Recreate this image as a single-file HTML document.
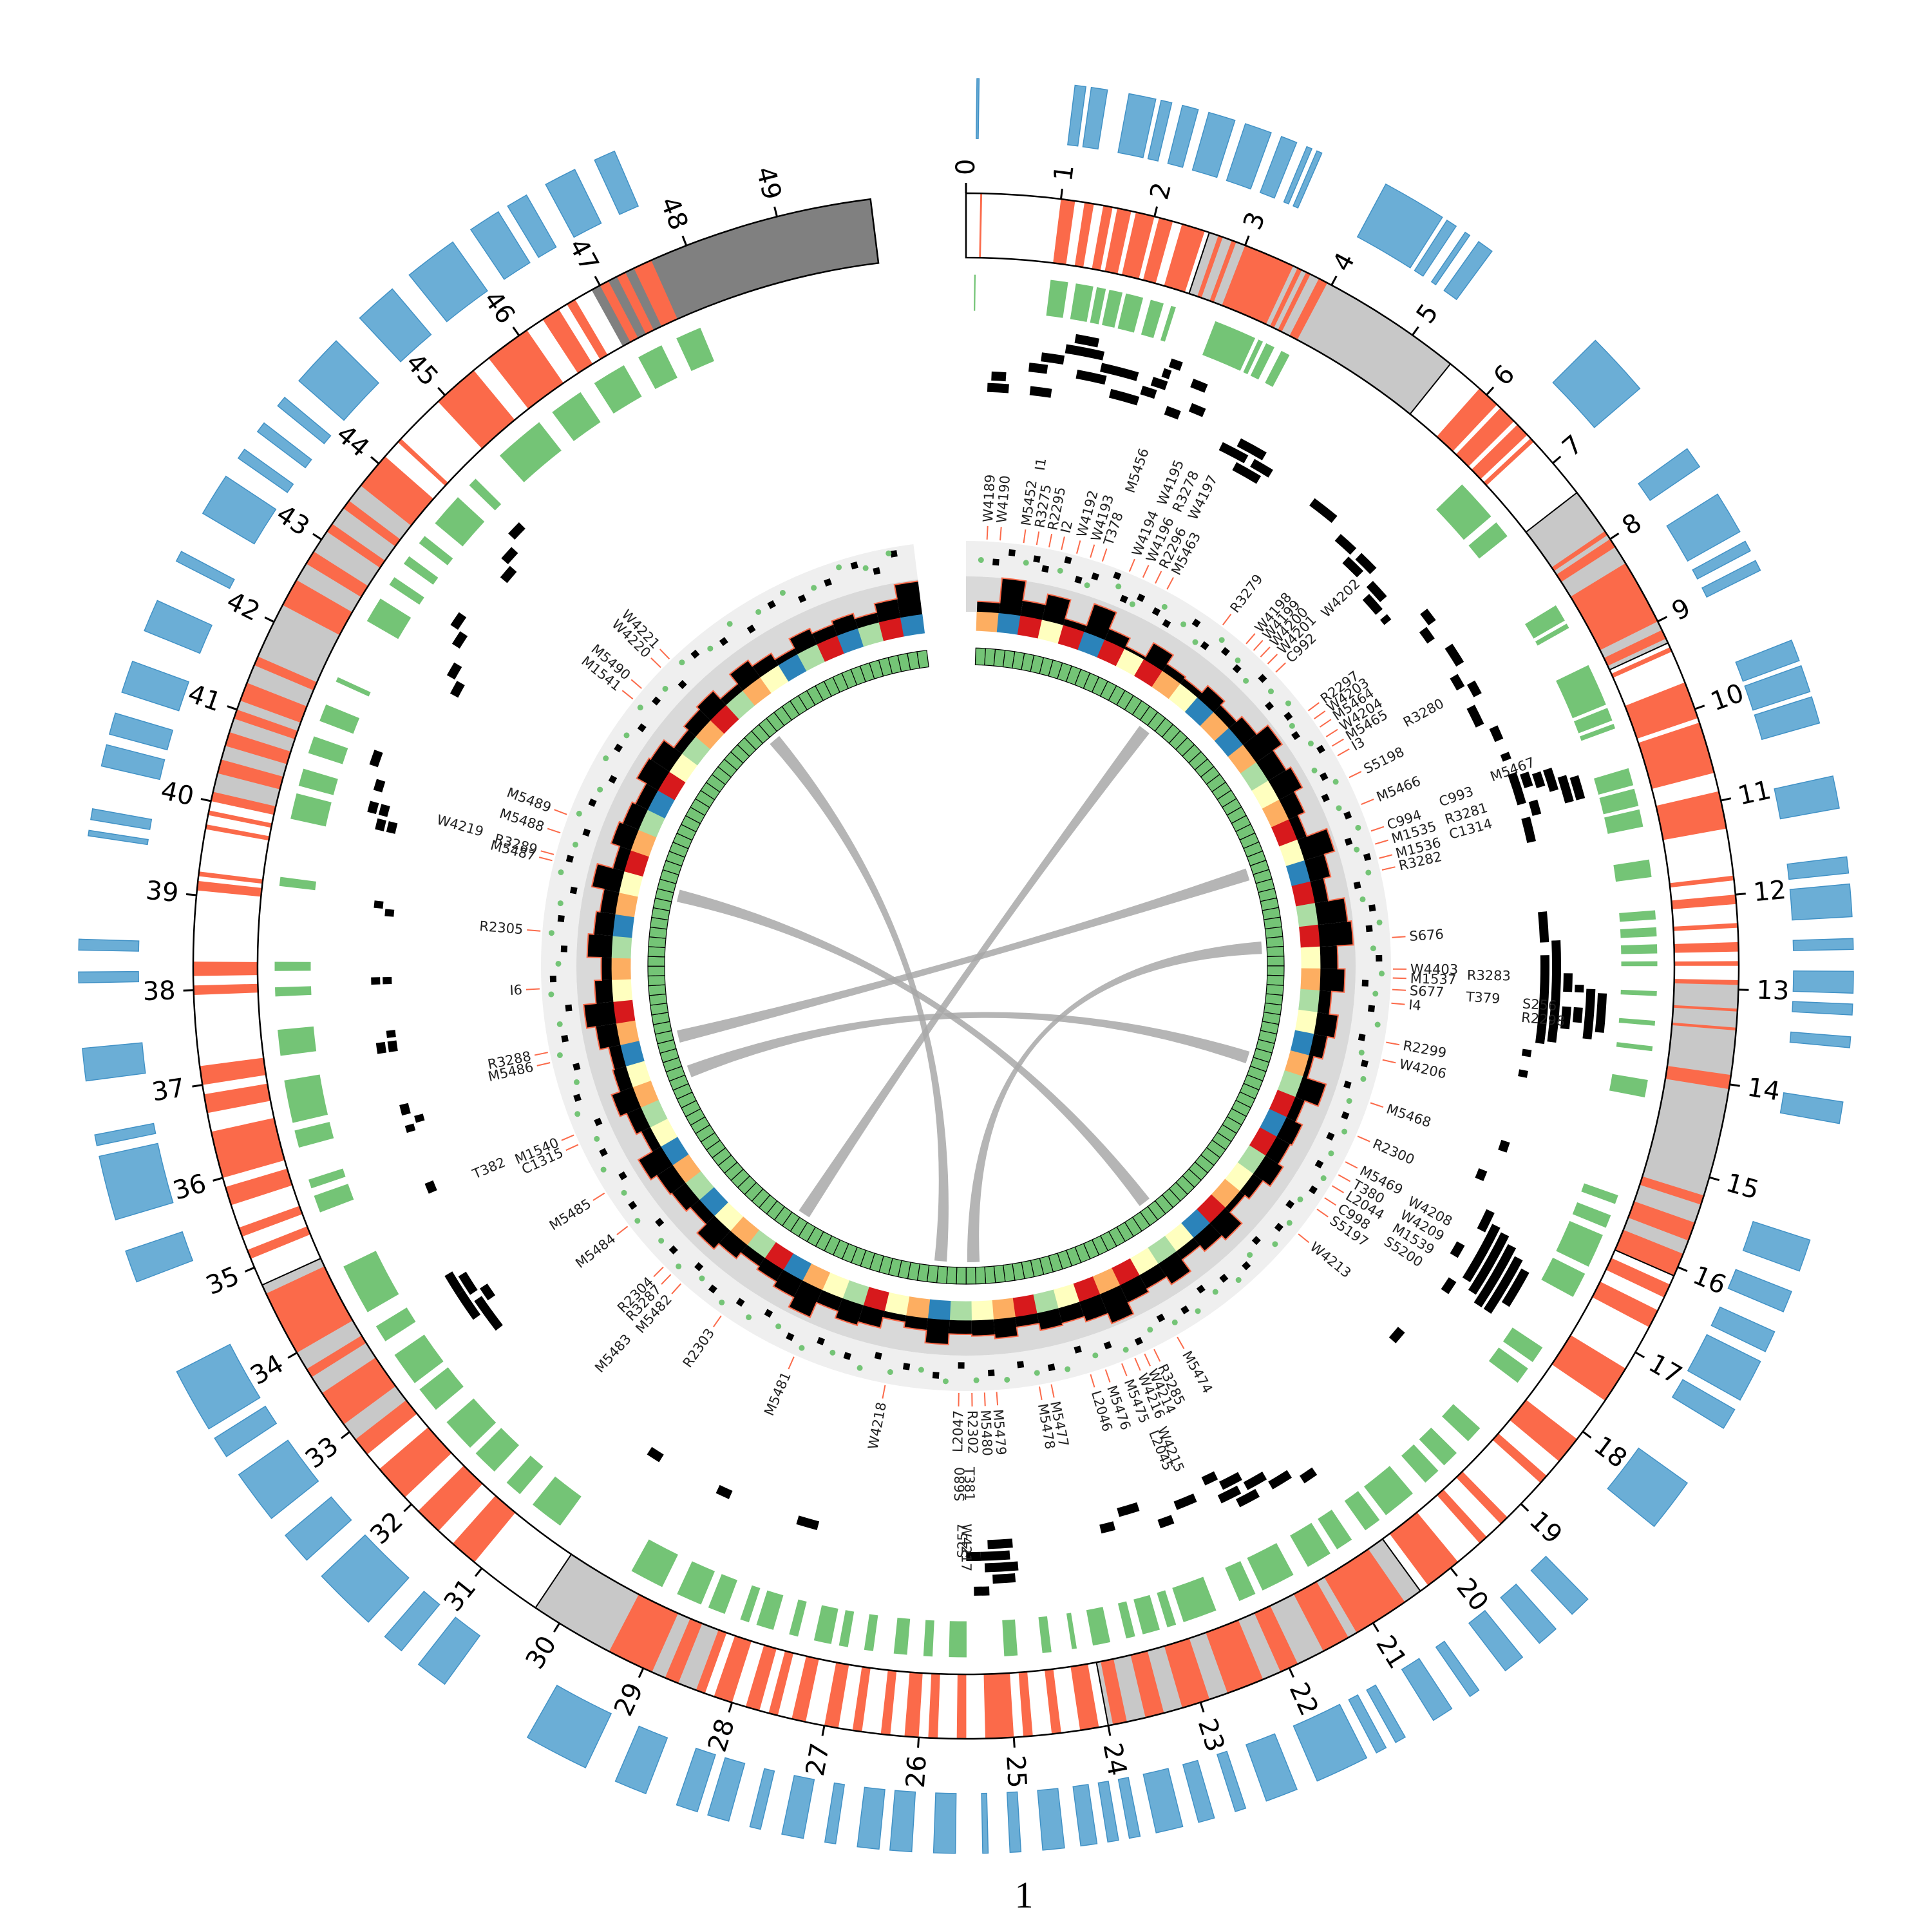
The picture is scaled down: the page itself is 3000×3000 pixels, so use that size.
<!DOCTYPE html>
<html><head><meta charset="utf-8"><title>circos</title>
<style>html,body{margin:0;padding:0;background:#fff;}svg{display:block;}</style></head>
<body>
<svg id="chart" xmlns="http://www.w3.org/2000/svg" width="3000" height="3000" viewBox="0 0 3000 3000">
<rect width="3000" height="3000" fill="#fff"/>
<text x="1590" y="2962" font-family="Liberation Serif, serif" font-size="58" text-anchor="middle">1</text>
</svg>
<script>
// ---------- data ----------
const TOTAL = 50;
const tickLabels = [0,1,2,3,4,5,6,7,8,9,10,11,12,13,14,15,16,17,18,19,20,21,22,23,24,25,26,27,28,29,30,31,32,33,34,35,36,37,38,39,40,41,42,43,44,45,46,47,48,49];
const greyBands = [[2.6,5.5],[7.4,9.25],[12.9,16.1],[20.4,24.0],[28.4,30.3],[32.7,34.8],[40.0,43.8]];
const darkBands = [[46.9,50]];
const segBounds = [2.6,5.5,7.4,9.25,16.1,20.4,24.0,30.3,34.8];
const redBands = [[0.15,0.17],[1.0,1.15],[1.25,1.35],[1.45,1.55],[1.6,1.75],[1.8,2.0],[2.05,2.2],[2.3,2.55],[2.7,2.75],[2.85,2.9],[3.0,3.55],[3.6,3.65],[3.7,3.75],[3.85,3.95],
[5.9,6.15],[6.2,6.4],[6.45,6.6],[6.65,6.7],[7.9,7.95],[8.0,8.1],[8.3,9.0],[9.1,9.2],[9.3,9.35],[9.7,10.1],[10.15,10.7],[10.9,11.3],[11.8,11.85],[12.0,12.1],[12.3,12.35],[12.5,12.6],[12.7,12.75],[12.9,12.95],
[13.2,13.23],[13.4,13.43],[13.9,14.05],[15.2,15.3],[15.5,15.7],[15.85,16.1],[16.2,16.35],[16.5,16.7],[17.2,17.6],[18.1,18.4],[18.6,18.7],[19.2,19.3],[19.5,19.6],[19.9,20.3],
[20.6,21.2],[21.3,21.6],[21.9,22.1],[22.3,22.7],[22.9,23.2],[23.4,23.6],[23.8,23.95],[24.1,24.3],[24.5,24.6],[24.8,24.9],[25.0,25.3],[25.5,25.6],[25.8,25.9],[26.0,26.15],[26.3,26.4],[26.6,26.7],[26.85,27.0],[27.2,27.35],[27.5,27.6],[27.7,27.85],[28.0,28.2],[28.3,28.4],[28.6,28.75],[28.9,29.4],
[31.1,31.4],[31.6,31.9],[32.1,32.5],[32.7,32.9],[33.1,33.5],[33.7,33.8],[34.0,34.7],[35.1,35.2],[35.35,35.45],[35.7,35.9],[36.0,36.5],[36.7,36.9],[37.0,37.2],[37.95,38.05],[38.15,38.3],[39.05,39.15],[39.2,39.25],
[39.7,39.75],[39.85,39.9],[40.0,40.1],[40.3,40.45],[40.6,40.75],[40.9,41.0],[41.1,41.3],[41.5,41.6],[42.2,42.5],[42.7,42.85],[43.1,43.2],[43.4,43.5],[43.7,44.1],[44.3,44.35],[44.9,45.4],[45.6,46.1],[46.3,46.5],[46.6,46.7],[47.0,47.1],[47.2,47.3],[47.4,47.6]];
const blueBars = [[0.1,0.12],[1.0,1.1],[1.15,1.3],[1.5,1.75],[1.8,1.9],[2.0,2.15],[2.25,2.5],[2.6,2.85],[2.95,3.1],[3.2,3.25],[3.3,3.35],[4.0,4.6],[4.65,4.75],[4.85,4.9],[5.0,5.15],[6.4,7.0],[7.7,7.9],[8.2,8.6],[8.7,8.8],[8.9,9.0],
[9.7,9.9],[9.95,10.2],[10.25,10.5],[11.0,11.3],[11.75,11.9],[12.0,12.3],[12.5,12.6],[12.8,13.0],[13.1,13.2],[13.4,13.5],[14.0,14.2],[15.3,15.6],[15.8,16.0],[16.2,16.4],[16.5,16.9],[17.0,17.2],[17.8,18.3],
[19.2,19.4],[19.6,19.8],[20.0,20.2],[20.5,20.6],[20.8,21.0],[21.3,21.4],[21.5,21.6],[21.7,22.2],[22.4,22.7],[22.9,23.0],[23.2,23.35],[23.5,23.75],[23.9,24.0],[24.1,24.2],[24.3,24.45],[24.6,24.8],[25.0,25.1],
[25.3,25.35],[25.6,25.8],[26.0,26.2],[26.3,26.5],[26.7,26.8],[27.0,27.2],[27.4,27.5],[27.7,27.9],[28.0,28.2],[28.5,28.8],[29.1,29.7],[30.6,30.9],[31.1,31.3],[31.5,32.1],[32.3,32.6],[32.8,33.3],[33.5,33.7],[33.8,34.4],
[35.3,35.6],[35.9,36.5],[36.6,36.7],[37.2,37.5],[38.1,38.2],[38.4,38.5],[39.45,39.5],[39.6,39.7],[40.1,40.3],[40.4,40.6],[40.8,41.1],[41.4,41.7],[42.1,42.2],[42.6,43.0],[43.2,43.3],[43.5,43.6],[43.8,43.9],[44.1,44.6],[44.9,45.3],[45.5,46.0],[46.2,46.5],[46.6,46.8],[47.0,47.3],[47.5,47.7]];
const greenBars = [[0.1,0.11],[1.0,1.2],[1.3,1.5],[1.55,1.65],[1.7,1.85],[1.9,2.1],[2.2,2.35],[2.45,2.5],[3.0,3.5],[3.55,3.6],[3.65,3.75],[3.85,3.95],[6.5,7.0],[7.1,7.3],[8.3,8.5],[8.55,8.6],[9.1,9.6],[9.65,9.8],[9.85,9.9],
[10.4,10.6],[10.65,10.85],[10.9,11.1],[11.5,11.7],[12.1,12.2],[12.3,12.4],[12.5,12.6],[12.7,12.75],[13.05,13.1],[13.4,13.45],[13.7,13.75],[14.1,14.3],[15.5,15.6],[15.75,15.9],[16.0,16.4],[16.5,16.8],[17.5,17.7],[17.8,18.0],
[18.7,18.9],[19.1,19.3],[19.4,19.6],[19.8,20.2],[20.3,20.5],[20.7,20.9],[21.0,21.3],[21.5,21.9],[22.0,22.2],[22.5,22.9],[23.0,23.1],[23.2,23.4],[23.5,23.6],[23.8,24.0],[24.2,24.25],[24.5,24.6],[24.9,25.05],
[25.5,25.7],[25.9,26.0],[26.2,26.35],[26.6,26.7],[26.9,27.0],[27.1,27.3],[27.5,27.6],[27.8,28.0],[28.1,28.2],[28.4,28.6],[28.7,29.0],[29.2,29.6],[30.6,31.0],[31.2,31.4],[31.6,31.9],[32.0,32.4],[32.6,32.9],[33.0,33.4],[33.6,33.8],[34.0,34.6],
[35.3,35.5],[35.6,35.7],[36.1,36.3],[36.4,36.9],[37.2,37.5],[37.9,38.0],[38.2,38.3],[39.2,39.3],[40.0,40.3],[40.4,40.6],[40.8,41.0],[41.2,41.4],[41.7,41.75],[42.5,42.8],[43.0,43.1],[43.3,43.4],[43.6,43.7],[43.9,44.3],[44.5,44.6],
[45.0,45.6],[45.8,46.2],[46.4,46.8],[47.0,47.3],[47.5,47.8]];
const tiles = [[0.3,0.6,0],[0.35,0.55,1],[0.9,1.2,0],[0.85,1.1,2],[1.0,1.3,3],[1.3,1.8,4],[1.4,1.7,5],[1.5,1.9,2],[1.8,2.3,3],[2.0,2.4,1],[2.4,2.6,2],[2.5,2.7,3],[2.6,2.7,4],[2.65,2.8,5],[2.8,3.0,1],[3.1,3.3,2],[3.0,3.2,4],
[3.7,4.1,0],[3.9,4.3,1],[4.0,4.4,-1],[4.2,4.5,0],[5.2,5.6,0],[5.8,6.1,-1],[6.1,6.4,-2],[6.2,6.5,-1],[6.6,6.9,-2],[6.7,7.0,-3],[7.1,7.2,-3],
[7.4,7.6,0],[7.6,7.8,-1],[8.0,8.3,0],[8.4,8.6,-1],[8.6,8.8,0],[8.9,9.2,-1],[9.3,9.5,0],[9.7,9.8,0],
[10.0,10.45,0],[10.05,10.25,1],[10.1,10.3,2],[10.1,10.4,3],[10.25,10.6,4],[10.3,10.6,5],[10.45,10.65,1],[10.65,11.0,0],
[11.99,12.42,0],[12.6,13.84,0],[12.4,13.8,1],[12.85,13.1,2],[13.3,13.6,2],[13.0,13.1,3],[13.3,13.5,3],[13.05,13.7,4],[13.1,13.6,5],
[13.95,14.05,-1],[14.25,14.35,-1],[15.3,15.45,-1],[15.8,15.95,-2],
[16.3,16.6,0],[16.45,17.3,1],[16.5,17.4,2],[16.6,17.5,3],[16.7,17.5,4],[16.8,17.3,5],[17.4,17.6,0],[16.9,17.1,-1],
[18.4,18.6,-1],[20.6,20.8,3],[20.9,21.2,2],[21.2,21.5,1],[21.4,21.7,2],[21.5,21.8,0],[21.6,21.9,1],[21.8,22.0,-1],[22.2,22.5,0],[22.6,22.8,1],[23.0,23.3,-1],[23.4,23.6,0],
[24.85,25.2,0],[24.9,25.3,1],[24.8,25.25,2],[24.85,25.15,3],[25.2,25.4,4],[25.3,25.5,1],
[27.6,27.9,0],[28.9,29.1,0],[30.0,30.2,0],[32.9,33.4,1],[33.2,33.6,2],[33.3,33.5,0],[33.5,33.8,1],[33.6,33.9,2],[35.0,35.15,0],[35.9,36.0,0],[36.0,36.1,-1],[36.15,36.3,0],
[37.05,37.2,0],[37.05,37.2,1],[37.25,37.35,0],[38.0,38.1,0],[38.0,38.1,1],[38.95,39.05,0],[39.05,39.15,1],
[40.1,40.25,1],[40.1,40.25,2],[40.3,40.45,2],[40.3,40.45,3],[40.6,40.75,3],[40.9,41.1,4],[42.2,42.4,0],[42.4,42.6,1],[42.8,43.0,2],[43.0,43.2,3],[43.9,44.1,2],[44.1,44.3,3],[44.4,44.6,4]];
const histValues = [0.3,1.0,0.45,0.75,0.2,0.85,0.35,0.1,0.55,0.25,0.2,0.45,0.3,0.5,0.9,0.6,0.75,0.5,0.3,0.9,0.6,0.4,0.85,0.95,0.5,0.7,0.35,0.6,0.4,0.15,0.7,0.3,0.5,0.45,0.6,0.35,0.2,0.65,0.5,0.3,0.7,0.45,0.55,0.9,0.6,0.45,0.5,0.3,0.55,0.45,0.4,0.7,0.35,0.2,0.5,0.6,0.4,0.85,0.55,0.4,0.3,0.5,0.7,0.35,0.5,0.55,0.75,0.3,0.45,0.65,0.4,0.35,0.6,0.85,0.5,0.3,0.7,0.55,0.45,0.8,0.35,0.6,0.5,0.4,0.7,0.65,0.3,0.45,0.55,0.25,0.6,0.4,0.2,0.5,0.35,0.45,0.3,0.55,0.95];
const heatValues = [1,4,0,2,0,4,0,2,0,1,2,4,1,4,1,3,2,1,0,2,4,0,3,0,2,1,3,2,4,1,3,0,4,0,3,2,1,0,4,2,3,2,0,1,0,2,3,0,1,2,3,4,1,2,0,3,2,1,4,0,3,1,2,4,3,1,4,2,3,1,2,4,1,0,2,1,3,4,1,2,0,1,3,4,0,2,3,1,0,3,1,2,4,3,0,4,3,0,4];
const heatColors = ["#d7191c","#fdae61","#ffffbf","#abdda4","#2b83ba"];
const squarePts = [[0.6,0.4],[0.9,0.8],[1.4,0.7],[1.6,0.4],[2.0,0.9],[2.3,0.3],[2.6,0.6],[3.0,0.9],[3.3,0.2],[3.6,0.5],[4.0,0.3],[4.3,0.1],[4.8,0.7],[5.2,0.2],[5.6,0.5],[6.0,0.3],[6.5,0.7],[7.0,0.2],[7.4,0.5],[7.8,0.3],[8.3,0.8],[8.8,0.4],[9.2,0.1],[9.7,0.6],[10.2,0.3],[10.6,0.8],[11.1,0.2],[11.6,0.6],[12.0,0.4],[12.6,0.7],[13.1,0.2],[13.6,0.5],[14.2,0.3],[14.7,0.6],[15.2,0.2],[15.8,0.5],[16.3,0.3],[16.9,0.4],[17.4,0.7],[17.9,0.3],[18.4,0.5],[18.9,0.2],[19.4,0.6],[19.9,0.4],[20.4,0.2],[20.9,0.5],[21.4,0.3],[22.0,0.7],[22.6,0.4],[23.2,0.2],[23.8,0.6],[24.4,0.3],[25.0,0.5],[25.6,0.2],[26.1,0.6],[26.7,0.4],[27.3,0.2],[27.9,0.5],[28.5,0.3],[29.1,0.6],[29.7,0.2],[30.3,0.4],[30.9,0.6],[31.4,0.3],[32.0,0.5],[32.6,0.2],[33.2,0.6],[33.8,0.3],[34.4,0.5],[35.0,0.2],[35.6,0.6],[36.2,0.3],[36.8,0.5],[37.4,0.2],[38.0,0.7],[38.6,0.3],[39.2,0.5],[39.8,0.2],[40.4,0.6],[41.0,0.3],[41.6,0.5],[42.2,0.2],[42.8,0.6],[43.4,0.3],[44.0,0.5],[44.6,0.2],[45.2,0.7],[45.8,0.4],[46.4,0.2],[47.0,0.6],[47.6,0.3],[48.2,0.5],[48.8,0.8],[49.2,0.4],[49.6,0.9]];
const dotPts = [[0.3,0.45],[1.2,0.5],[1.9,0.45],[2.5,0.2],[3.1,0.55],[3.5,0.15],[4.1,0.6],[4.6,0.4],[5.0,0.1],[5.4,0.75],[5.9,0.55],[6.3,0.2],[6.8,0.6],[7.2,0.8],[7.6,0.4],[8.1,0.6],[8.6,0.2],[9.0,0.7],[9.5,0.4],[10.0,0.8],[10.4,0.5],[10.9,0.7],[11.4,0.3],[11.9,0.8],[12.4,0.5],[12.9,0.8],[13.3,0.6],[13.9,0.8],[14.5,0.4],[15.0,0.7],[15.5,0.45],[16.1,0.7],[16.6,0.6],[17.1,0.8],[17.7,0.5],[18.2,0.7],[18.7,0.8],[19.2,0.4],[19.7,0.8],[20.2,0.6],[20.7,0.8],[21.2,0.7],[21.7,0.5],[22.3,0.8],[22.9,0.6],[23.5,0.8],[24.1,0.7],[24.7,0.8],[25.3,0.75],[25.9,0.8],[26.4,0.45],[27.0,0.7],[27.6,0.8],[28.2,0.55],[28.8,0.8],[29.4,0.45],[30.0,0.7],[30.6,0.8],[31.2,0.55],[31.7,0.8],[32.3,0.6],[32.9,0.8],[33.5,0.6],[34.1,0.8],[34.7,0.5],[35.3,0.8],[35.9,0.45],[36.5,0.8],[37.1,0.6],[37.7,0.8],[38.3,0.5],[38.9,0.8],[39.5,0.6],[40.1,0.8],[40.7,0.55],[41.3,0.8],[41.9,0.45],[42.5,0.8],[43.1,0.6],[43.7,0.8],[44.3,0.55],[44.9,0.8],[45.5,0.5],[46.1,0.8],[46.7,0.6],[47.3,0.8],[47.9,0.5],[48.5,0.9],[49.0,0.6],[49.5,0.95]];
const labelNames = ["W4189","W4190","M5452","I1","R3275","R2295","I2","W4192","W4193","T378","M5456","W4194","W4195","W4196","R3278","R2296","W4197","M5463","R3279","W4198","W4199","W4200","W4201","C992","W4202","R2297","W4203","M5464","W4204","M5465","I3","R3280","S5198","M5466","C994","C993","M5467","M1535","R3281","M1536","C1314","R3282","S676","W4403","M1537","R3283","S677","T379","S256","I4","R2298","R2299","W4206","M5468","R2300","M5469","W4208","T380","W4209","L2044","M1539","C998","S5200","S5197","W4213","M5474","R3285","W4214","W4216","W4215","L2045","M5475","M5476","L2046","M5477","M5478","M5479","M5480","R2302","T381","W4217","L2047","S680","S257","W4218","M5481","R2303","M5482","M5483","R3287","R2304","M5484","M5485","C1315","M1540","T382","M5486","R3288","I6","R2305","M5487","R3289","W4219","M5488","M5489","M1541","M5490","W4220","W4221"];
const labelPos = [0.40,0.65,1.10,1.20,1.35,1.59,1.83,2.13,2.40,2.64,2.70,3.19,3.25,3.47,3.52,3.73,3.80,3.98,5.24,5.81,6.0,6.18,6.37,6.59,6.45,7.55,7.74,7.93,8.15,8.36,8.57,8.65,9.04,9.6,10.14,10.05,9.95,10.4,10.35,10.68,10.6,10.91,12.21,12.81,12.98,12.9,13.2,13.25,13.3,13.46,13.5,14.21,14.55,15.4,16.08,16.62,16.7,16.9,16.95,17.14,17.2,17.41,17.45,17.67,18.26,21.3,21.8,22.0,22.2,22.25,22.4,22.47,22.8,23.1,23.87,24.1,24.92,25.15,25.39,25.45,25.5,25.64,25.6,25.55,27.05,28.87,30.46,31.44,31.5,31.7,31.9,32.93,33.7,34.75,34.95,35.0,36.4,36.6,37.82,38.92,40.28,40.4,40.45,40.83,41.2,43.74,44.0,44.54,44.77];
const labelLevel = [0,0,0,1,0,0,0,0,0,0,1,0,1,0,1,0,1,0,0,0,0,0,0,0,1,0,0,0,0,0,0,1,0,0,0,1,2,0,1,0,1,0,0,0,0,1,0,1,2,0,2,0,0,0,0,0,1,0,1,0,1,0,1,0,0,0,0,0,0,1,1,0,0,0,0,0,0,0,0,1,2,0,1,2,0,0,0,0,1,0,0,0,0,0,0,1,0,0,0,0,0,0,1,0,0,0,0,0,0];
const linkFrom = [45.3,5.25,40.2,36.3,35.3,12.25];
const linkTo = [26.2,30.2,20.25,10.2,15.3,25.3];
const boxCount = 199;

// ---------- helpers ----------
const svg = document.getElementById('chart');
const NS = 'http://www.w3.org/2000/svg';
const CX = 1500, CY = 1500, SPAN = 352.9;
function ang(u){ return u / TOTAL * SPAN; }
function pt(r, deg){ const a = deg*Math.PI/180; return [CX + r*Math.sin(a), CY - r*Math.cos(a)]; }
function sector(r0, r1, u0, u1){
  const a0 = ang(u0), a1 = ang(u1), lg = (a1-a0) > 180 ? 1 : 0;
  const p1 = pt(r1,a0), p2 = pt(r1,a1), p3 = pt(r0,a1), p4 = pt(r0,a0);
  return `M${p1[0].toFixed(2)},${p1[1].toFixed(2)} A${r1},${r1} 0 ${lg} 1 ${p2[0].toFixed(2)},${p2[1].toFixed(2)} L${p3[0].toFixed(2)},${p3[1].toFixed(2)} A${r0},${r0} 0 ${lg} 0 ${p4[0].toFixed(2)},${p4[1].toFixed(2)} Z`;
}
function mk(tag, attrs, parent){
  const e = document.createElementNS(NS, tag);
  for (const k in attrs) e.setAttribute(k, attrs[k]);
  (parent || svg).appendChild(e);
  return e;
}
function group(name){
  const g = document.createElementNS(NS, 'g');
  
  
  svg.appendChild(g);
  return g;
}

// ---------- blue outer track ----------
const gBlue = group('blue-track');
blueBars.forEach(b => {
  const p = mk('path', {d: sector(1285, 1378, b[0], b[1]), fill: '#6baed6', stroke: '#4292c6', 'stroke-width': 1.5}, gBlue);
  
  
});

// ---------- ideogram ----------
const gIdeo = group('ideogram');
mk('path', {d: sector(1100, 1200, 0, TOTAL), fill: '#ffffff'}, gIdeo);
greyBands.forEach(b => {
  const p = mk('path', {d: sector(1100, 1200, b[0], b[1]), fill: '#c8c8c8'}, gIdeo);
  
  
});
darkBands.forEach(b => {
  const p = mk('path', {d: sector(1100, 1200, b[0], b[1]), fill: '#808080'}, gIdeo);
  
  
});
redBands.forEach(b => {
  const p = mk('path', {d: sector(1100, 1200, b[0], b[1]), fill: '#fb6a4a'}, gIdeo);
  
  
});
segBounds.forEach(u => {
  const a = pt(1100, ang(u)), b = pt(1200, ang(u));
  const l = mk('line', {x1:a[0], y1:a[1], x2:b[0], y2:b[1], stroke:'#000', 'stroke-width':2}, gIdeo);
  
  
});
const outline = mk('path', {d: sector(1100, 1200, 0, TOTAL), fill: 'none', stroke: '#000', 'stroke-width': 2.5}, gIdeo);


const gTicks = group('ideogram-ticks');
tickLabels.forEach(t => {
  const a = ang(t);
  const p0 = pt(1200, a), p1 = pt(1216, a);
  const l = mk('line', {x1:p0[0], y1:p0[1], x2:p1[0], y2:p1[1], stroke:'#000', 'stroke-width':3}, gTicks);
  
  
  const tp = pt(1228, a);
  const right = a < 180;
  const rot = right ? a - 90 : a + 90;
  const tx = mk('text', {x: tp[0], y: tp[1], 'font-family': 'DejaVu Sans, sans-serif', 'font-size': 40,
    'text-anchor': right ? 'start' : 'end', 'dominant-baseline': 'central',
    transform: `rotate(${rot.toFixed(2)} ${tp[0].toFixed(2)} ${tp[1].toFixed(2)})`}, gTicks);
  tx.textContent = t;
  
  
});

// ---------- green track ----------
const gGreen = group('green-track');
greenBars.forEach(b => {
  const p = mk('path', {d: sector(1018, 1073, b[0], b[1]), fill: '#74c476', stroke: '#74c476', 'stroke-width': 1}, gGreen);
  
  
});

// ---------- tiles ----------
const gTiles = group('tile-track');
tiles.forEach(t => {
  const r = 892 + t[2]*18;
  const p = mk('path', {d: sector(r, r+14, t[0], t[1]), fill: '#000'}, gTiles);
  
  
});

// ---------- labels ----------
const gLab = group('label-track');
labelNames.forEach((name, i) => {
  const a = ang(labelPos[i]);
  const lv = labelLevel[i];
  if (lv === 0) {
    const c0 = pt(663, a), c1 = pt(684, a);
    const l = mk('line', {x1:c0[0], y1:c0[1], x2:c1[0], y2:c1[1], stroke:'#fb6a4a', 'stroke-width':2}, gLab);
    
    
  }
  const tp = pt(690 + lv*88, a);
  const right = a < 180;
  const rot = right ? a - 90 : a + 90;
  const tx = mk('text', {x: tp[0], y: tp[1], 'font-family': 'DejaVu Sans, sans-serif', 'font-size': 21,
    'text-anchor': right ? 'start' : 'end', 'dominant-baseline': 'central', fill: '#222',
    transform: `rotate(${rot.toFixed(2)} ${tp[0].toFixed(2)} ${tp[1].toFixed(2)})`}, gLab);
  tx.textContent = name;
  
  
});

// ---------- scatter track ----------
const gSc = group('scatter-track');
const scBg = mk('path', {d: sector(605, 660, 0, TOTAL), fill: '#efefef'}, gSc);


squarePts.forEach(s => {
  const p = pt(612 + s[1]*42, ang(s[0]));
  const r = mk('rect', {x: p[0]-5, y: p[1]-5, width: 10, height: 10, fill: '#000',
    transform: `rotate(${ang(s[0]).toFixed(2)} ${p[0].toFixed(2)} ${p[1].toFixed(2)})`}, gSc);
  
  
});
dotPts.forEach(s => {
  const p = pt(612 + s[1]*42, ang(s[0]));
  const c = mk('circle', {cx: p[0], cy: p[1], r: 4.5, fill: '#74c476'}, gSc);
  
  
});

// ---------- histogram ----------
const gH = group('histogram-track');
const hBg = mk('path', {d: sector(550, 605, 0, TOTAL), fill: '#d9d9d9'}, gH);


const binW = (TOTAL - 0.25) / histValues.length;
let outlineD = '';
histValues.forEach((v, i) => {
  const u0 = 0.25 + i*binW, u1 = u0 + binW, r = 550 + v*55;
  const p = mk('path', {d: sector(550, r, u0, u1), fill: '#000'}, gH);
  
  
  const a = pt(r, ang(u0)), b = pt(r, ang(u1));
  outlineD += (i === 0 ? `M${a[0].toFixed(2)},${a[1].toFixed(2)}` : ` L${a[0].toFixed(2)},${a[1].toFixed(2)}`) + ` A${r},${r} 0 0 1 ${b[0].toFixed(2)},${b[1].toFixed(2)}`;
});
const hOut = mk('path', {d: outlineD, fill: 'none', stroke: '#fb6a4a', 'stroke-width': 2}, gH);



// ---------- heatmap ----------
const gHm = group('heatmap-track');
const hmW = (TOTAL - 0.25) / heatValues.length;
heatValues.forEach((v, i) => {
  const u0 = 0.25 + i*hmW;
  const p = mk('path', {d: sector(521, 550, u0, u0 + hmW), fill: heatColors[v], stroke: heatColors[v], 'stroke-width': 0.8}, gHm);
  
  
});

// ---------- green box ring ----------
const gBox = group('box-track');
const bw = (TOTAL - 0.25) / boxCount;
for (let i = 0; i < boxCount; i++){
  const u0 = 0.25 + i*bw;
  const p = mk('path', {d: sector(468, 494, u0, u0 + bw), fill: '#74c476', stroke: '#000', 'stroke-width': 1.2}, gBox);
  
  
}

// ---------- links ----------
const gL = group('link-track');
const R = 460, HW = 0.17;
linkFrom.forEach((f, i) => {
  const t = linkTo[i];
  const a0 = pt(R, ang(f - HW)), a1 = pt(R, ang(f + HW));
  const b0 = pt(R, ang(t - HW)), b1 = pt(R, ang(t + HW));
  const d = `M${a0[0]},${a0[1]} A${R},${R} 0 0 1 ${a1[0]},${a1[1]} Q${CX},${CY} ${b0[0]},${b0[1]} A${R},${R} 0 0 1 ${b1[0]},${b1[1]} Q${CX},${CY} ${a0[0]},${a0[1]} Z`;
  const p = mk('path', {d: d, fill: '#a8a8a8', 'fill-opacity': 0.85}, gL);
  
  
});
</script>
</body></html>
